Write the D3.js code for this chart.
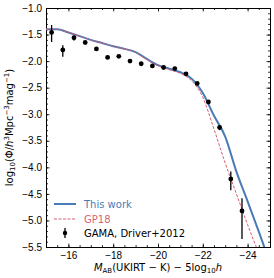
<!DOCTYPE html>
<html>
<head>
<meta charset="utf-8">
<script src="https://cdn.jsdelivr.net/npm/d3@7"></script>
<style>
  body { margin: 0; background: #fff; }
  svg { font-family: 'DejaVu Sans', sans-serif; }
  .axis path { stroke: #000; stroke-width: 1; }
  .axis line { stroke: #000; stroke-width: 0.8; }
  .axis text { font-size: 10px; fill: #000; }
</style>
</head>
<body>
<svg id="chart"></svg>
<script>
// GAMA points (Driver+2012)
const gamaMag = [-15.25, -15.75, -16.25, -16.75, -17.25, -17.75, -18.25, -18.75, -19.25,
  -19.75, -20.25, -20.75, -21.25, -21.75, -22.25, -22.75, -23.25, -23.75];
const gamaPhi = [-1.46, -1.79, -1.56, -1.65, -1.77, -1.93, -1.91, -2.0, -2.05,
  -2.09, -2.12, -2.14, -2.24, -2.42, -2.77, -3.25, -4.22, -4.82];
const gamaErrUp = [0.14, 0.09, 0.04, 0.03, 0.02, 0.02, 0.02, 0.02, 0.02,
  0.02, 0.02, 0.02, 0.02, 0.02, 0.03, 0.04, 0.14, 0.24];
const gamaErrDown = [0.18, 0.13, 0.05, 0.03, 0.02, 0.02, 0.02, 0.02, 0.02,
  0.02, 0.02, 0.02, 0.02, 0.02, 0.03, 0.05, 0.21, 0.53];

// this work
const modelMag = [-15, -15.5, -16, -16.5, -17, -17.5, -18, -18.5, -19, -19.5, -20,
  -20.5, -21, -21.5, -22, -22.5, -23, -23.5, -24, -24.5, -25];
const modelPhi = [-1.40, -1.40, -1.46, -1.53, -1.60, -1.66, -1.72, -1.77, -1.83, -1.96, -2.075,
  -2.145, -2.21, -2.33, -2.60, -3.03, -3.42, -4.08, -4.64, -5.21, -5.80];

// GP18
const gp18Mag = [-15, -15.5, -16, -16.5, -17, -17.5, -18, -18.5, -19, -19.5, -20,
  -20.5, -21, -21.5, -22, -22.5, -23, -23.5, -24, -24.5];
const gp18Phi = [-1.40, -1.40, -1.46, -1.53, -1.60, -1.66, -1.72, -1.77, -1.83, -1.97, -2.09,
  -2.16, -2.23, -2.37, -2.68, -3.28, -3.92, -4.50, -5.08, -5.62];

const xMajor = [-16, -18, -20, -22, -24];
const yMajor = [-1.0, -1.5, -2.0, -2.5, -3.0, -3.5, -4.0, -4.5, -5.0, -5.5];
const xMinor = d3.range(-15, -25.01, -0.5);
const yMinor = d3.range(-1.0, -5.51, -0.1);

const blue = '#4a7bb7';
const red = '#d95f72';

const width = 274;
const height = 278;
const margin = { top: 8, right: 4, bottom: 31, left: 46 };
const innerWidth = width - margin.left - margin.right;
const innerHeight = height - margin.top - margin.bottom;

const svg = d3.select('#chart').attr('width', width).attr('height', height);
const g = svg.append('g').attr('transform', `translate(${margin.left},${margin.top})`);

const x = d3.scaleLinear().domain([-15, -25]).range([0, innerWidth]);
const y = d3.scaleLinear().domain([-5.5, -1.0]).range([innerHeight, 0]);

const minus = (s) => s.replace('-', '\u2212');

g.append('defs').append('clipPath').attr('id', 'clip')
  .append('rect').attr('width', innerWidth).attr('height', innerHeight);

// axes, ticks pointing in
function drawAxis(axis, transform, major, minor, fmt, pad) {
  const ga = g.append('g').attr('class', 'axis').attr('transform', transform);
  ga.call(axis.tickValues(major).tickSize(-3.5).tickPadding(pad).tickFormat(fmt || ''));
  if (!fmt) ga.selectAll('text').remove();
  const gm = g.append('g').attr('class', 'axis').attr('transform', transform);
  gm.call(axis.tickValues(minor).tickSize(-2).tickFormat(''));
  gm.select('.domain').remove();
  gm.selectAll('text').remove();
}
const fx = (d) => minus(d3.format('d')(d));
const fy = (d) => minus(d3.format('.1f')(d));
drawAxis(d3.axisBottom(x), `translate(0,${innerHeight})`, xMajor, xMinor, fx, 5);
drawAxis(d3.axisTop(x), 'translate(0,0)', xMajor, xMinor, null, 3);
drawAxis(d3.axisLeft(y), 'translate(0,0)', yMajor, yMinor, fy, 4);
drawAxis(d3.axisRight(y), `translate(${innerWidth},0)`, yMajor, yMinor, null, 3);

const plot = g.append('g').attr('clip-path', 'url(#clip)');

const line = d3.line()
  .x((d) => x(d[0]))
  .y((d) => y(d[1]))
  .curve(d3.curveMonotoneX);

plot.append('path')
  .datum(d3.zip(modelMag, modelPhi))
  .attr('d', line)
  .attr('fill', 'none')
  .attr('stroke', blue)
  .attr('stroke-width', 2);

plot.append('path')
  .datum(d3.zip(gp18Mag, gp18Phi))
  .attr('d', line)
  .attr('fill', 'none')
  .attr('stroke', red)
  .attr('stroke-width', 1)
  .attr('stroke-dasharray', '3,1.5');

const gama = d3.range(gamaMag.length).map((i) => ({
  m: gamaMag[i], p: gamaPhi[i], up: gamaErrUp[i], down: gamaErrDown[i],
}));

plot.selectAll('.err').data(gama).join('line')
  .attr('x1', (d) => x(d.m)).attr('x2', (d) => x(d.m))
  .attr('y1', (d) => y(d.p + d.up)).attr('y2', (d) => y(d.p - d.down))
  .attr('stroke', '#000').attr('stroke-width', 1.3);

plot.selectAll('.pt').data(gama).join('circle')
  .attr('cx', (d) => x(d.m)).attr('cy', (d) => y(d.p))
  .attr('r', 2.4).attr('fill', '#000');

// legend
const leg = g.append('g').attr('transform', 'translate(8,196)');
leg.append('line').attr('x1', 0).attr('x2', 22).attr('y1', 0).attr('y2', 0)
  .attr('stroke', blue).attr('stroke-width', 2);
leg.append('text').attr('x', 30).attr('y', 3.5).text('This work')
  .attr('font-size', 10).attr('fill', blue);
leg.append('line').attr('x1', 0).attr('x2', 22).attr('y1', 15).attr('y2', 15)
  .attr('stroke', red).attr('stroke-width', 1).attr('stroke-dasharray', '3,1.5');
leg.append('text').attr('x', 30).attr('y', 18.5).text('GP18')
  .attr('font-size', 10).attr('fill', red);
leg.append('line').attr('x1', 11).attr('x2', 11).attr('y1', 24).attr('y2', 34)
  .attr('stroke', '#000').attr('stroke-width', 1.3);
leg.append('circle').attr('cx', 11).attr('cy', 29).attr('r', 2.2).attr('fill', '#000');
leg.append('text').attr('x', 30).attr('y', 32.5).text('GAMA, Driver+2012')
  .attr('font-size', 10).attr('fill', '#000');

// x label
const xl = svg.append('text')
  .attr('x', margin.left + innerWidth / 2).attr('y', 271)
  .attr('text-anchor', 'middle').attr('font-size', 10);
xl.append('tspan').attr('font-style', 'italic').text('M');
xl.append('tspan').attr('font-size', 7).attr('dy', 2).text('AB');
xl.append('tspan').attr('dy', -2).text('(UKIRT \u2212 K) \u2212 5log');
xl.append('tspan').attr('font-size', 7).attr('dy', 2).text('10');
xl.append('tspan').attr('dy', -2).attr('font-style', 'italic').text('h');

// y label
const yl = svg.append('text')
  .attr('transform', `translate(13,${margin.top + innerHeight / 2}) rotate(-90)`)
  .attr('text-anchor', 'middle').attr('font-size', 10);
yl.append('tspan').text('log');
yl.append('tspan').attr('font-size', 7).attr('dy', 2).text('10');
yl.append('tspan').attr('dy', -2).text('(\u03a6/');
yl.append('tspan').attr('font-style', 'italic').text('h');
yl.append('tspan').attr('font-size', 7).attr('dy', -4).text('3');
yl.append('tspan').attr('dy', 4).text('Mpc');
yl.append('tspan').attr('font-size', 7).attr('dy', -4).text('\u22123');
yl.append('tspan').attr('dy', 4).text('mag');
yl.append('tspan').attr('font-size', 7).attr('dy', -4).text('\u22121');
yl.append('tspan').attr('dy', 4).text(')');
</script>
</body>
</html>
